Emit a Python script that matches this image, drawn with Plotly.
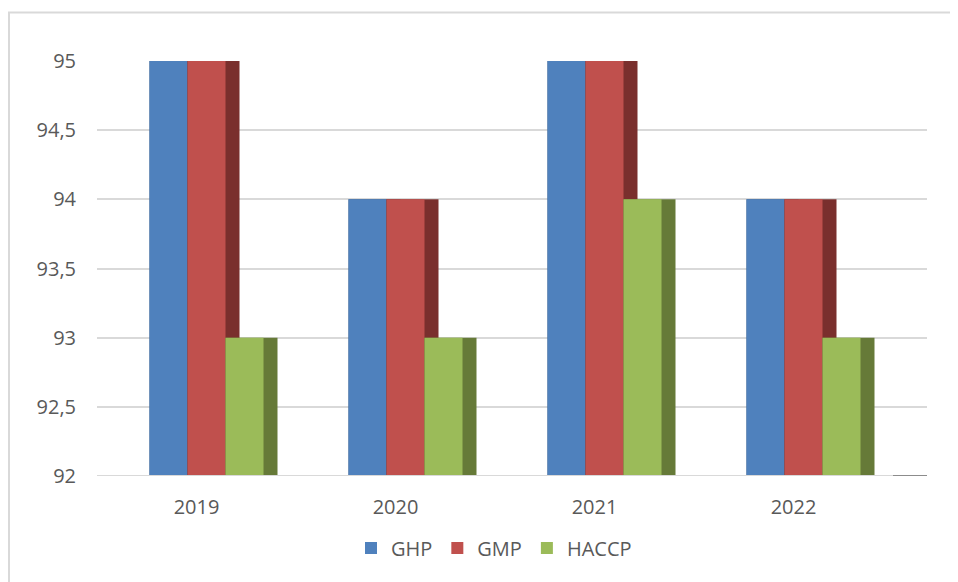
import plotly.graph_objects as go

years = ["2019", "2020", "2021", "2022"]
ghp = [95, 94, 95, 94]
gmp = [95, 94, 95, 94]
haccp = [93, 93, 94, 93]
y_tickvals = [92, 92.5, 93, 93.5, 94, 94.5, 95]
y_ticktext = ["92", "92,5", "93", "93,5", "94", "94,5", "95"]

series = [
    ("GHP", ghp, "#4f81bd", "#2f4d74"),
    ("GMP", gmp, "#c0504d", "#7a2f2d"),
    ("HACCP", haccp, "#9bbb59", "#667a38"),
]

cat_px = 199.0
bar_w = 38 / cat_px
depth = 14 / cat_px
start = -47 / cat_px

fig = go.Figure()
for i, (name, vals, col, dark) in enumerate(series):
    off = start + i * bar_w
    fig.add_trace(go.Bar(
        x=years, y=vals, name=name + " side", showlegend=False,
        offset=off, width=bar_w + depth, marker=dict(color=dark, line=dict(width=0)),
        hoverinfo="skip"))
    fig.add_trace(go.Bar(
        x=years, y=vals, name=name, showlegend=True,
        offset=off, width=bar_w, marker=dict(color=col, line=dict(width=0))))

# page body has an 8px margin, so the figure is offset by 8px
OFF = 8
W, H = 958 - OFF, 582 - OFF
L, T = 97 - OFF, 61 - OFF
R = W - (927 - OFF)
B = H - (476 - OFF)
pw = W - L - R
ph = H - T - B
xmax = -0.5 + pw / cat_px

def px_x(x):
    return (x - OFF - L) / pw

def px_y(y):
    return (T + ph - (y - OFF)) / ph

shapes = [
    # chart frame
    dict(type="rect", xref="paper", yref="paper",
         x0=px_x(9), x1=px_x(990), y0=px_y(620), y1=px_y(12.5),
         line=dict(color="#d9d9d9", width=2), fillcolor="rgba(0,0,0,0)", layer="below"),
    # floor line
    dict(type="line", xref="x", yref="y", x0=-0.5, x1=3.5, y0=92, y1=92,
         line=dict(color="#d9d9d9", width=2), layer="above"),
    dict(type="line", xref="x", yref="y", x0=3.5, x1=xmax, y0=92, y1=92,
         line=dict(color="#8c8c8c", width=2), layer="above"),
]

fig.update_layout(
    width=W, height=H,
    margin=dict(l=L, r=R, t=T, b=B),
    paper_bgcolor="white", plot_bgcolor="white",
    barmode="overlay",
    font=dict(family="Open Sans, Segoe UI, sans-serif", size=20, color="#595959"),
    xaxis=dict(type="category", range=[-0.5, xmax], showgrid=False, showline=False,
               zeroline=False, ticks="", ticklabelstandoff=17,
               tickfont=dict(size=20, color="#595959")),
    yaxis=dict(range=[92, 95], tickvals=y_tickvals, ticktext=y_ticktext,
               showgrid=True, gridcolor="#d9d9d9", gridwidth=2, zeroline=False,
               showline=False, ticks="", ticklabelstandoff=20,
               tickfont=dict(size=20, color="#595959")),
    legend=dict(orientation="h", x=px_x(494), xanchor="center",
                y=px_y(548), yanchor="middle",
                font=dict(size=20, color="#595959"), itemclick=False),
    shapes=shapes,
    showlegend=True,
)

fig.write_html("out.html")
